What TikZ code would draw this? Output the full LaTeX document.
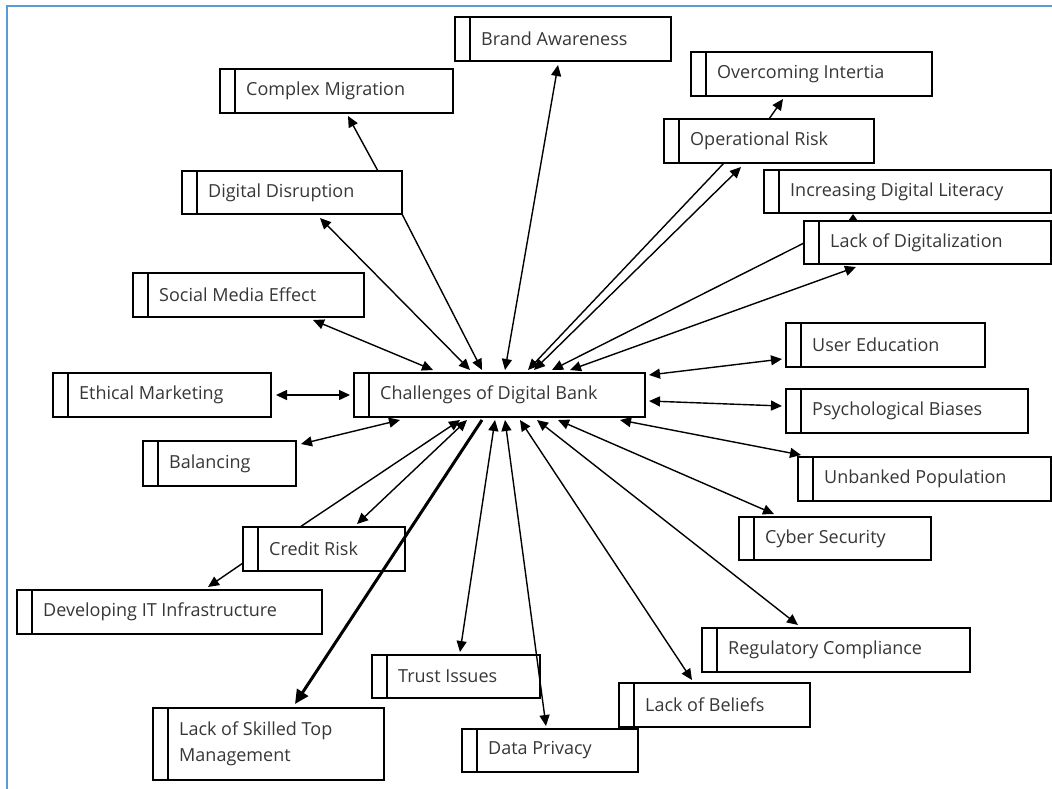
\documentclass[tikz,border=0pt]{standalone}
\usepackage{fontspec}
\setmainfont{Open Sans}
\usetikzlibrary{arrows.meta}
\definecolor{frameblue}{RGB}{91,155,213}
\definecolor{txtgray}{RGB}{55,55,55}
\tikzset{
 bx/.style={draw=black, line width=2pt, inner sep=0pt, outer sep=0pt},
 barline/.style={draw=black, line width=2pt},
 lbl/.style={text=txtgray, font=\fontsize{18}{26}\selectfont, inner sep=0pt, anchor=west, align=left},
 con/.style={line width=1.4pt, -{Triangle[length=11pt,width=10pt]}},
 dcon/.style={line width=1.4pt, {Triangle[length=11pt,width=10pt]}-{Triangle[length=11pt,width=10pt]}},
 tinycon/.style={line width=1.4pt, -{Triangle[length=6pt,width=8pt]}},
 thickcon/.style={line width=3pt, -{Triangle[length=14pt,width=13pt]}},
 frameline/.style={draw=frameblue, line width=2.2pt},
}
\newcommand\labbox[6]{%
 \node[bx, anchor=north west, minimum width={(#4-#2)*1pt}, minimum height={(#5-#3)*1pt}] (#1) at (#2,#3) {};
 \draw[barline] ([xshift=15pt]#1.north west) -- ([xshift=15pt]#1.south west);
 \node[lbl] (#1t) at ([xshift=26pt]#1.west) {#6};
}
\begin{document}
\begin{tikzpicture}[x=1pt,y=-1pt]
\useasboundingbox (0,0) rectangle (1052,788);
\fill[white] (0,0) rectangle (1052,788);
\coordinate (fbl) at (7,790);
\coordinate (ftl) at (7,6);
\coordinate (ftr) at (1054,6);
\draw[frameline] (fbl) -- (ftl) -- (ftr);

\labbox{brand}{455}{17}{671}{61}{Brand Awareness}
\labbox{cmig}{220}{69}{453}{113}{Complex Migration}
\labbox{overc}{691}{52}{932}{96}{Overcoming Intertia}
\labbox{oprisk}{664}{119}{874}{163}{Operational Risk}
\labbox{ddis}{182}{171}{402}{214}{Digital Disruption}
\labbox{idl}{764}{170}{1051}{213}{Increasing Digital Literacy}
\labbox{lackdig}{804}{221}{1051}{264}{Lack of Digitalization}
\labbox{social}{133}{273}{364}{317}{Social Media Effect}
\labbox{usered}{786}{323}{985}{367}{User Education}
\labbox{ethical}{53}{373}{271}{417}{Ethical Marketing}
\labbox{cbd}{354}{373}{645}{417}{Challenges of Digital Bank}
\labbox{psych}{786}{389}{1028}{433}{Psychological Biases}
\labbox{balancing}{143}{441}{296}{486}{Balancing}
\labbox{unbanked}{798}{457}{1051}{501}{Unbanked Population}
\labbox{cyber}{739}{517}{931}{560}{Cyber Security}
\labbox{credit}{243}{527}{405}{571}{Credit Risk}
\labbox{devit}{17}{590}{322}{634}{Developing IT Infrastructure}
\labbox{regc}{702}{628}{970}{672}{Regulatory Compliance}
\labbox{trust}{372}{655}{540}{698}{Trust Issues}
\labbox{beliefs}{619}{683}{810}{727}{Lack of Beliefs}
\labbox{skilled}{153}{708}{384}{780}{Lack of Skilled Top\\Management}
\labbox{dpriv}{462}{729}{638}{772}{Data Privacy}

% connectors
\draw[dcon] ([shift={(103,48)}]brand.north west) -- ([shift={(151,-3)}]cbd.north west);
\draw[dcon] ([shift={(180,47)}]social.north west) -- ([shift={(79,-3)}]cbd.north west);
\draw[dcon] ([shift={(223,22)}]ethical.north west) -- ([shift={(-4,22)}]cbd.north west);
\draw[dcon] ([shift={(158,3)}]balancing.north west) -- ([shift={(46,47)}]cbd.north west);
\draw[dcon] ([shift={(138,47)}]ddis.north west) -- ([shift={(116,-3)}]cbd.north west);
\draw[con] (ddis.south east) -- ([shift={(128,-3)}]cbd.north west);
\draw[con] ([shift={(196,0)}]ddis.north west) -- ([shift={(128,47)}]cmig.north west);
\draw[con] ([shift={(105,0)}]oprisk.north west) -- ([shift={(92,47)}]overc.north west);
\draw[con] ([shift={(60,44)}]oprisk.north west) -- ([shift={(174,-3)}]cbd.north west);
\draw[dcon] ([shift={(77,48)}]oprisk.north west) -- ([shift={(180,-3)}]cbd.north west);
\draw[tinycon] ([shift={(49,0)}]lackdig.north west) -- ([shift={(89,44)}]idl.north west);
\draw[con] ([shift={(0,22)}]lackdig.north west) -- ([shift={(198,-3)}]cbd.north west);
\draw[dcon] ([shift={(52,46)}]lackdig.north west) -- ([shift={(216,-3)}]cbd.north west);
\draw[dcon] ([shift={(295,2)}]cbd.north west) -- ([shift={(-4,36)}]usered.north west);
\draw[dcon] ([shift={(295,28)}]cbd.north west) -- ([shift={(-4,17)}]psych.north west);
\draw[dcon] ([shift={(266,47)}]cbd.north west) -- ([shift={(3,-2)}]unbanked.north west);
\draw[dcon] ([shift={(204,47)}]cbd.north west) -- ([shift={(35,-3)}]cyber.north west);
\draw[dcon] ([shift={(183,47)}]cbd.north west) -- ([shift={(96,-3)}]regc.north west);
\draw[dcon] ([shift={(166,47)}]cbd.north west) -- ([shift={(73,-3)}]beliefs.north west);
\draw[dcon] ([shift={(151,47)}]cbd.north west) -- ([shift={(84,-3)}]dpriv.north west);
\draw[dcon] ([shift={(141,47)}]cbd.north west) -- ([shift={(88,-3)}]trust.north west);
\draw[thickcon] ([shift={(128,47)}]cbd.north west) -- ([shift={(142,-4)}]skilled.north west);
\draw[dcon] ([shift={(113,47)}]cbd.north west) -- ([shift={(114,-3)}]credit.north west);
\draw[con] ([shift={(57,0)}]credit.north west) -- ([shift={(106,47)}]cbd.north west);
\draw[con] ([shift={(0,36)}]credit.north west) -- ([shift={(191,-3)}]devit.north west);
\end{tikzpicture}
\end{document}
